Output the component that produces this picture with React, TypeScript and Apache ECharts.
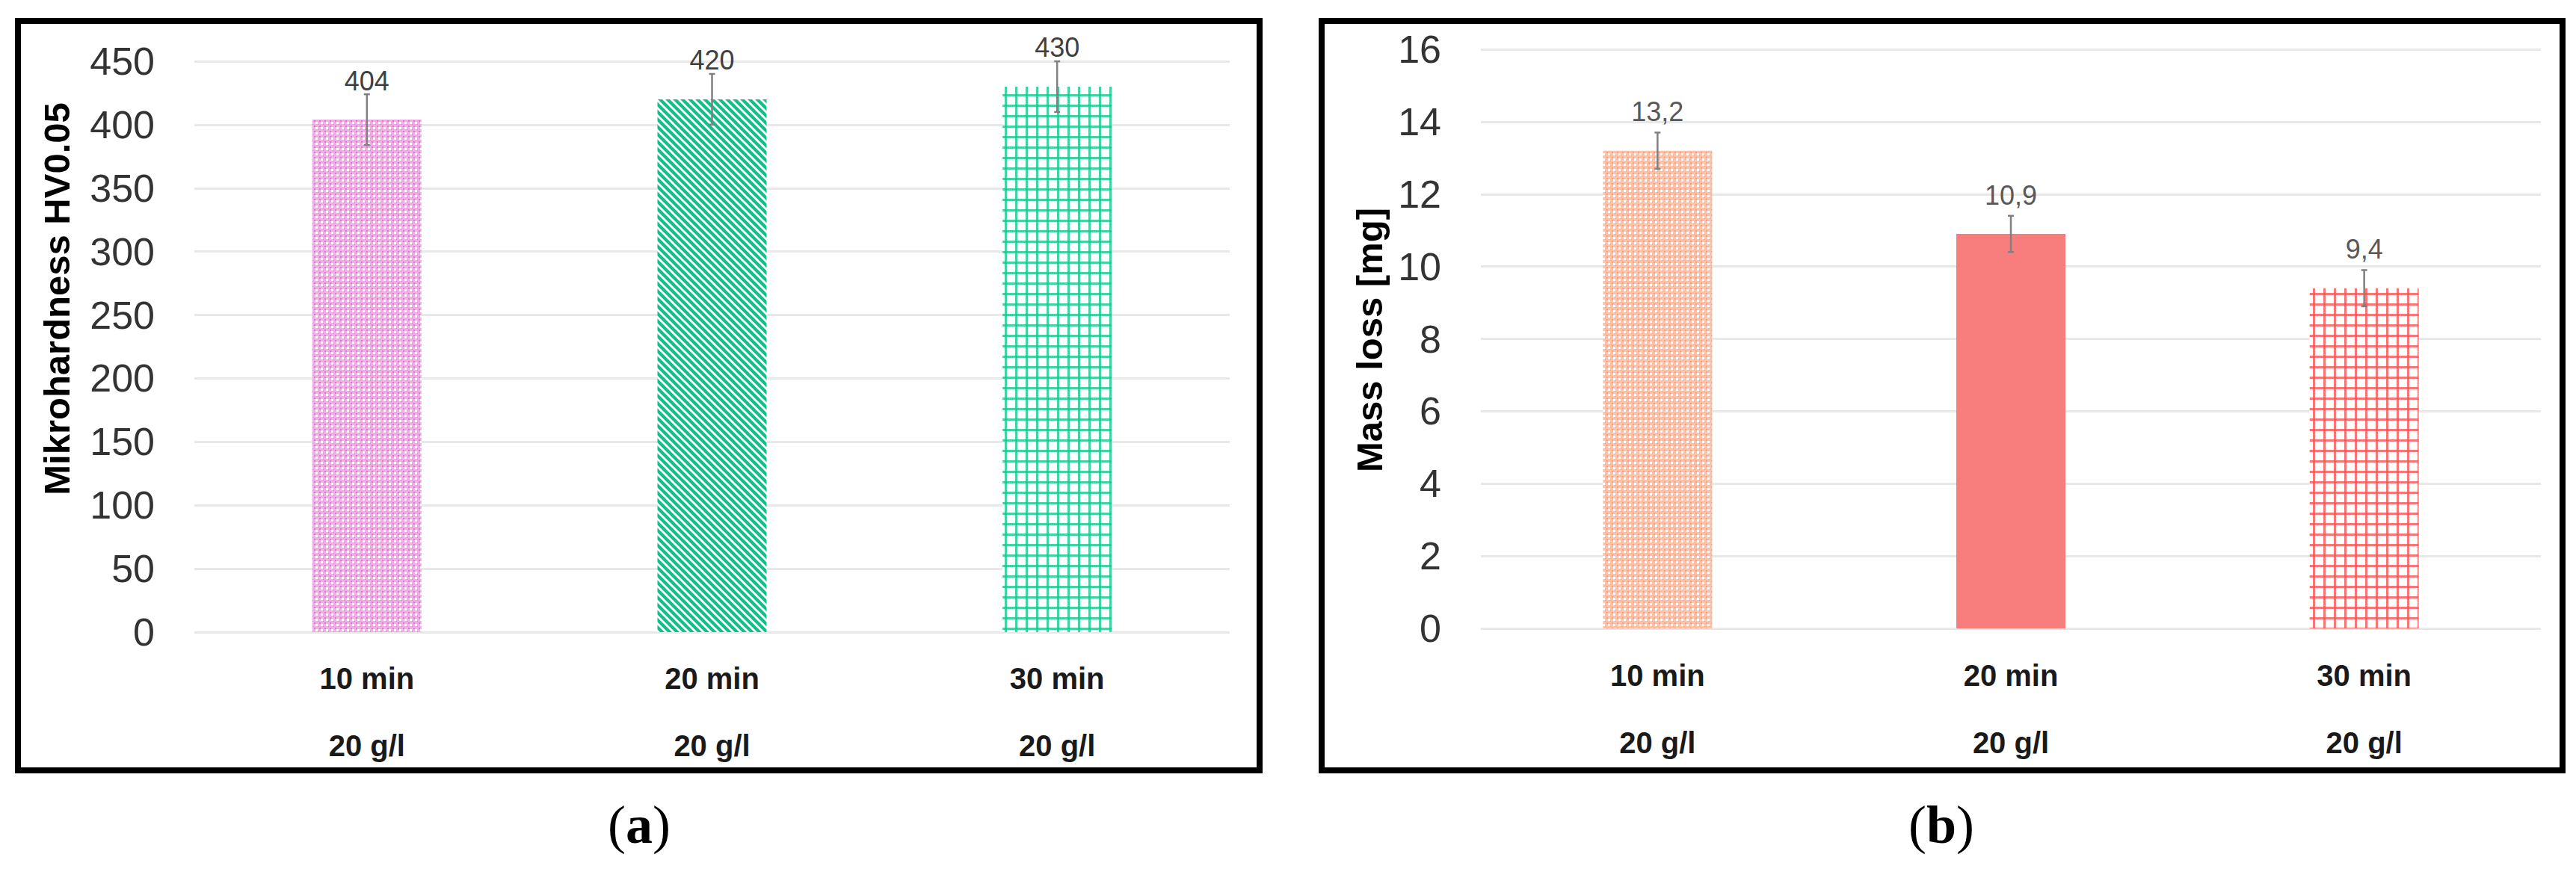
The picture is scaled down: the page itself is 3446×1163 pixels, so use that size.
import React, { useEffect, useRef } from "react";
import * as echarts from "echarts";

// ---- data ----
const categories = ["10 min", "20 min", "30 min"];
const concentrations = ["20 g/l", "20 g/l", "20 g/l"];
const hardness = [404, 420, 430];
const hardnessErr = [20, 20, 20];
const massLoss = [13.2, 10.9, 9.4];
const massLossErr = [0.5, 0.5, 0.5];
const hardnessAxis = { min: 0, max: 450, interval: 50 };
const massAxis = { min: 0, max: 16, interval: 2 };
const hardnessTitle = "Mikrohardness HV0.05";
const massTitle = "Mass loss [mg]";

// ---- patterns ----
function tile(w: number, h: number, draw: (ctx: CanvasRenderingContext2D) => void) {
  const c = document.createElement("canvas");
  c.width = w;
  c.height = h;
  const ctx = c.getContext("2d") as CanvasRenderingContext2D;
  draw(ctx);
  return { image: c.toDataURL(), repeat: "repeat", imageWidth: w, imageHeight: h };
}

function checker(bg: string, dark: string) {
  return tile(7, 7, (ctx) => {
    ctx.fillStyle = bg;
    ctx.fillRect(0, 0, 7, 7);
    ctx.fillStyle = "#ffffff";
    ctx.fillRect(2, 2, 3, 3);
    ctx.fillStyle = dark;
    ctx.fillRect(0, 0, 2, 2);
    ctx.fillRect(5, 5, 1, 1);
  });
}

function diagonal(color: string) {
  return tile(10, 10, (ctx) => {
    ctx.fillStyle = "#ffffff";
    ctx.fillRect(0, 0, 10, 10);
    ctx.strokeStyle = color;
    ctx.lineWidth = 4.2;
    for (const o of [-10, 0, 10]) {
      ctx.beginPath();
      ctx.moveTo(o - 2, -2);
      ctx.lineTo(o + 12, 12);
      ctx.stroke();
    }
  });
}

function grid(color: string) {
  return tile(14, 14, (ctx) => {
    ctx.fillStyle = "#ffffff";
    ctx.fillRect(0, 0, 14, 14);
    ctx.fillStyle = color;
    ctx.fillRect(0, 0, 3, 14);
    ctx.fillRect(0, 0, 14, 3);
  });
}

function errorSeries(xi: number, values: number[], errs: number[]) {
  return {
    type: "custom",
    xAxisIndex: xi,
    yAxisIndex: xi,
    silent: true,
    z: 10,
    data: values.map((v, i) => [i, v - errs[i], v + errs[i]]),
    renderItem: (_p: any, api: any) => {
      const x = api.value(0);
      const lo = api.coord([x, api.value(1)]);
      const hi = api.coord([x, api.value(2)]);
      const st = { stroke: "#808080", lineWidth: 2.5 };
      return {
        type: "group",
        children: [
          { type: "line", shape: { x1: lo[0], y1: lo[1], x2: hi[0], y2: hi[1] }, style: st },
          { type: "line", shape: { x1: hi[0] - 4, y1: hi[1], x2: hi[0] + 4, y2: hi[1] }, style: st },
          { type: "line", shape: { x1: lo[0] - 4, y1: lo[1], x2: lo[0] + 4, y2: lo[1] }, style: st },
        ],
      };
    },
  };
}

export default function App() {
  const ref = useRef<HTMLDivElement>(null);

  useEffect(() => {
    document.body.style.margin = "0";
    if (!ref.current) return;
    const chart = echarts.init(ref.current, null, { renderer: "svg" });

    const leftColors = [checker("#eeb0e4", "#de78ce"), diagonal("#12bf86"), grid("rgba(20,200,140,0.8)")];
    const rightColors = [checker("#fcc2aa", "#f7a182"), "#f87e7e", grid("rgba(242,85,85,0.8)")];

    const font = "'Liberation Sans', Arial, sans-serif";

    const xAxisBase = (idx: number, margin: number) => ({
      type: "category",
      gridIndex: idx,
      data: categories,
      axisLine: { show: false },
      axisTick: { show: false },
      axisLabel: {
        margin,
        interval: 0,
        formatter: (v: string, i: number) => `{a|${v}}\n{a|${concentrations[i]}}`,
        rich: {
          a: { fontSize: 40, fontWeight: "bold", lineHeight: 90, color: "#1a1a1a", fontFamily: font },
        },
      },
    });

    const yAxisBase = (idx: number, ax: { min: number; max: number; interval: number }) => ({
      type: "value",
      gridIndex: idx,
      min: ax.min,
      max: ax.max,
      interval: ax.interval,
      axisLine: { show: false },
      axisTick: { show: false },
      axisLabel: { fontSize: 52, color: "#333333", margin: 53, fontFamily: font },
      splitLine: { show: true, lineStyle: { color: "#e8e8e8", width: 3 } },
    });

    chart.setOption({
      animation: false,
      backgroundColor: "#ffffff",
      grid: [
        { left: 260, top: 82, width: 1385, height: 764, outerBoundsMode: "none", containLabel: false },
        { left: 1981, top: 66, width: 1418, height: 775, outerBoundsMode: "none", containLabel: false },
      ],
      xAxis: [xAxisBase(0, 17), xAxisBase(1, 18)],
      yAxis: [yAxisBase(0, hardnessAxis), yAxisBase(1, massAxis)],
      series: [
        {
          type: "bar",
          xAxisIndex: 0,
          yAxisIndex: 0,
          barWidth: 146,
          data: hardness.map((v, i) => ({ value: v, itemStyle: { color: leftColors[i] } })),
          label: {
            show: true,
            position: "top",
            distance: 34,
            fontSize: 36,
            color: "#404040",
            fontFamily: font,
          },
        },
        errorSeries(0, hardness, hardnessErr),
        {
          type: "bar",
          xAxisIndex: 1,
          yAxisIndex: 1,
          barWidth: 146,
          data: massLoss.map((v, i) => ({ value: v, itemStyle: { color: rightColors[i] } })),
          label: {
            show: true,
            position: "top",
            distance: 34,
            fontSize: 36,
            color: "#595959",
            fontFamily: font,
            formatter: (p: any) => String(p.value).replace(".", ","),
          },
        },
        errorSeries(1, massLoss, massLossErr),
      ],
      graphic: [
        {
          type: "rect",
          shape: { x: 24, y: 28, width: 1661, height: 1003 },
          style: { fill: "none", stroke: "#000000", lineWidth: 8 },
          z: 100,
        },
        {
          type: "rect",
          shape: { x: 1768, y: 28, width: 1660, height: 1003 },
          style: { fill: "none", stroke: "#000000", lineWidth: 8 },
          z: 100,
        },
        {
          type: "text",
          x: 76,
          y: 400,
          rotation: Math.PI / 2,
          style: {
            text: hardnessTitle,
            fontSize: 49,
            fontWeight: "bold",
            fontFamily: font,
            fill: "#000000",
            align: "center",
            verticalAlign: "middle",
          },
        },
        {
          type: "text",
          x: 1832,
          y: 455,
          rotation: Math.PI / 2,
          style: {
            text: massTitle,
            fontSize: 49,
            fontWeight: "bold",
            fontFamily: font,
            fill: "#000000",
            align: "center",
            verticalAlign: "middle",
          },
        },
        {
          type: "text",
          x: 855,
          y: 1104,
          style: {
            text: "{p|(}{b|a}{p|)}",
            align: "center",
            verticalAlign: "middle",
            rich: {
              p: { fontFamily: "'Liberation Serif', serif", fontSize: 72, fill: "#000" },
              b: { fontFamily: "'Liberation Serif', serif", fontSize: 72, fontWeight: "bold", fill: "#000" },
            },
          },
        },
        {
          type: "text",
          x: 2597,
          y: 1104,
          style: {
            text: "{p|(}{b|b}{p|)}",
            align: "center",
            verticalAlign: "middle",
            rich: {
              p: { fontFamily: "'Liberation Serif', serif", fontSize: 72, fill: "#000" },
              b: { fontFamily: "'Liberation Serif', serif", fontSize: 72, fontWeight: "bold", fill: "#000" },
            },
          },
        },
      ],
    });

    return () => chart.dispose();
  }, []);

  return <div ref={ref} style={{ width: 3446, height: 1163 }} />;
}
